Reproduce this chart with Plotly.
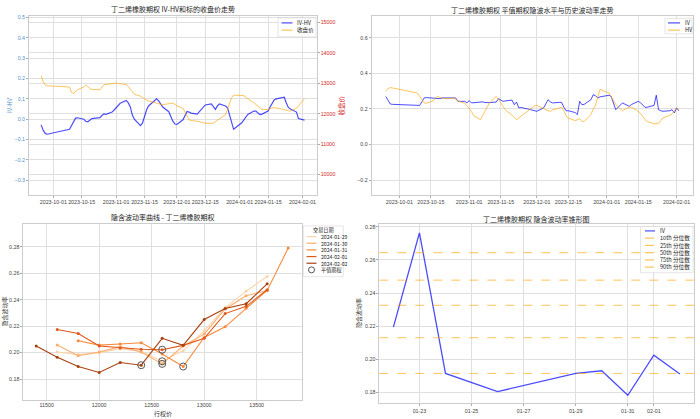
import plotly.graph_objects as go

# ---------- data: IV-HV and close price / IV and HV (trading days) ----------
dates = [
    "2023-09-25", "2023-09-26", "2023-09-27", "2023-09-28",
    "2023-10-09", "2023-10-10", "2023-10-11", "2023-10-12", "2023-10-13",
    "2023-10-16", "2023-10-17", "2023-10-18", "2023-10-19", "2023-10-20",
    "2023-10-23", "2023-10-24", "2023-10-25", "2023-10-26", "2023-10-27",
    "2023-10-30", "2023-10-31",
    "2023-11-01", "2023-11-02", "2023-11-03",
    "2023-11-06", "2023-11-07", "2023-11-08", "2023-11-09", "2023-11-10",
    "2023-11-13", "2023-11-14", "2023-11-15", "2023-11-16", "2023-11-17",
    "2023-11-20", "2023-11-21", "2023-11-22", "2023-11-23", "2023-11-24",
    "2023-11-27", "2023-11-28", "2023-11-29", "2023-11-30",
    "2023-12-01",
    "2023-12-04", "2023-12-05", "2023-12-06", "2023-12-07", "2023-12-08",
    "2023-12-11", "2023-12-12", "2023-12-13", "2023-12-14", "2023-12-15",
    "2023-12-18", "2023-12-19", "2023-12-20", "2023-12-21", "2023-12-22",
    "2023-12-25", "2023-12-26", "2023-12-27", "2023-12-28", "2023-12-29",
    "2024-01-02", "2024-01-03", "2024-01-04", "2024-01-05",
    "2024-01-08", "2024-01-09", "2024-01-10", "2024-01-11", "2024-01-12",
    "2024-01-15", "2024-01-16", "2024-01-17", "2024-01-18", "2024-01-19",
    "2024-01-22", "2024-01-23", "2024-01-24", "2024-01-25", "2024-01-26",
    "2024-01-29", "2024-01-30", "2024-01-31",
    "2024-02-01", "2024-02-02",
]

iv_hv = [
    -0.028, -0.055, -0.070, -0.074,
    -0.050, -0.030, -0.010, 0.005, 0.007,
    0.000, -0.010, -0.013, -0.005, 0.003,
    0.006, 0.007, 0.018, 0.026, 0.024,
    0.035, 0.045,
    0.055, 0.065, 0.078,
    0.092, 0.080, 0.060, 0.020, 0.000,
    -0.032, -0.020, 0.020, 0.045, 0.065,
    0.092, 0.100, 0.090, 0.075, 0.060,
    0.037, 0.010, -0.010, -0.024,
    -0.026,
    -0.003, 0.015, 0.038, 0.035, 0.030,
    0.025, 0.035, 0.045, 0.060, 0.070,
    0.075, 0.060, 0.048, 0.065, 0.075,
    0.065, 0.056, 0.020, -0.020, -0.050,
    -0.018, -0.005, 0.010, 0.023,
    0.040, 0.040, 0.030, 0.023, 0.025,
    0.040, 0.060, 0.080, 0.095, 0.100,
    0.104, 0.108, 0.080, 0.058, 0.050,
    0.035, 0.003, 0.000,
    0.000, -0.005,
]

close_price = [
    13250, 13060, 12950, 12920,
    12880, 12700, 12670, 12740, 12790,
    12880, 12940, 12900, 12830, 12800,
    12785, 12790, 12880, 12950, 12960,
    12980, 12995,
    13010, 12990, 12990,
    12960, 12900, 12800, 12720, 12640,
    12580, 12530, 12490, 12450, 12420,
    12380, 12355, 12330, 12310, 12300,
    12330, 12350, 12355, 12310,
    12260,
    12180, 12050, 11890, 11800, 11780,
    11760, 11740, 11720, 11700, 11690,
    11680, 11690, 11740, 11790, 11840,
    11970, 12150, 12380, 12530, 12610,
    12620, 12600, 12550, 12490,
    12360, 12300, 12240, 12180, 12140,
    12140, 12170, 12190, 12200, 12190,
    12170, 12140, 12110, 12095, 12085,
    12180, 12250, 12320,
    12420, 12500,
]

atm_iv = [
    0.270, 0.250, 0.228, 0.226,
    0.221, 0.220, 0.240, 0.262, 0.264,
    0.262, 0.262, 0.260, 0.258, 0.262,
    0.264, 0.262, 0.262, 0.262, 0.243,
    0.243, 0.234,
    0.247, 0.234, 0.236,
    0.238, 0.240, 0.236, 0.234, 0.236,
    0.239, 0.258, 0.250, 0.243, 0.245,
    0.250, 0.224, 0.239, 0.206, 0.208,
    0.200, 0.196, 0.196, 0.190,
    0.187,
    0.206, 0.228, 0.252, 0.240, 0.234,
    0.237, 0.237, 0.210, 0.190, 0.190,
    0.180, 0.168, 0.243, 0.224, 0.226,
    0.252, 0.280, 0.275, 0.262, 0.268,
    0.277, 0.270, 0.234, 0.196,
    0.234, 0.228, 0.222, 0.215, 0.225,
    0.243, 0.235, 0.222, 0.209, 0.210,
    0.220, 0.277, 0.196, 0.190, 0.187,
    0.190, 0.196, 0.178,
    0.206, 0.190,
]

hist_vol = [
    0.300, 0.315, 0.320, 0.318,
    0.290, 0.270, 0.250, 0.234, 0.232,
    0.245, 0.262, 0.270, 0.265, 0.260,
    0.258, 0.260, 0.262, 0.255, 0.245,
    0.232, 0.220,
    0.205, 0.185, 0.162,
    0.140, 0.165, 0.190, 0.215, 0.235,
    0.270, 0.255, 0.235, 0.215, 0.195,
    0.165, 0.150, 0.140, 0.150, 0.160,
    0.185, 0.200, 0.210, 0.218,
    0.220,
    0.200, 0.195, 0.190, 0.187, 0.195,
    0.205, 0.210, 0.190, 0.160, 0.148,
    0.135, 0.140, 0.146, 0.131, 0.130,
    0.168, 0.200, 0.220, 0.262, 0.310,
    0.290, 0.270, 0.243, 0.225,
    0.190, 0.200, 0.205, 0.210, 0.210,
    0.187, 0.175, 0.160, 0.140, 0.130,
    0.116, 0.118, 0.120, 0.135, 0.150,
    0.165, 0.172, 0.190,
    0.206, 0.196,
]

# ---------- data: smile curves ----------
smile_dates = ["2024-01-29", "2024-01-30", "2024-01-31", "2024-02-01", "2024-02-02"]
smile_strikes = [
    [11600, 11800, 12000, 12200, 12400, 12600, 12800, 13000, 13200, 13400, 13600],
    [11600, 11800, 12000, 12200, 12400, 12600, 12800, 13000, 13200, 13400, 13600],
    [11800, 12000, 12200, 12400, 12600, 12800, 13000, 13200, 13400, 13600, 13800],
    [11600, 11800, 12000, 12200, 12400, 12600, 12800, 13000, 13200, 13400, 13600],
    [11400, 11600, 11800, 12000, 12200, 12400, 12600, 12800, 13000, 13200, 13400, 13600],
]
smile_iv = [
    [0.2005, 0.1985, 0.2000, 0.2030, 0.2010, 0.1935, 0.2015, 0.2165, 0.2340, 0.2465, 0.2575],
    [0.2057, 0.1977, 0.2005, 0.2045, 0.2005, 0.1915, 0.2050, 0.2140, 0.2330, 0.2430, 0.2470],
    [0.2090, 0.2057, 0.2065, 0.2075, 0.1990, 0.1895, 0.2115, 0.2195, 0.2335, 0.2470, 0.2790],
    [0.2175, 0.2145, 0.2050, 0.2035, 0.2025, 0.2022, 0.2055, 0.2108, 0.2295, 0.2350, 0.2475],
    [0.2050, 0.1965, 0.1895, 0.1850, 0.1925, 0.1905, 0.2108, 0.2055, 0.2250, 0.2333, 0.2370, 0.2520],
]
atm_strikes = [12600, 12600, 12800, 12600, 12400]
smile_colors = ["#fdd4aa", "#fdae6b", "#f98a3d", "#e0581a", "#a8410e"]

# ---------- data: IV cone ----------
cone_dates = ["2024-01-22", "2024-01-23", "2024-01-24", "2024-01-26", "2024-01-29",
              "2024-01-30", "2024-01-31", "2024-02-01", "2024-02-02"]
cone_iv = [0.2194, 0.2764, 0.1914, 0.1804, 0.1914, 0.1930, 0.1782, 0.2024, 0.1910]
quantile_names = ["10th 分位数", "25th 分位数", "50th 分位数", "75th 分位数", "90th 分位数"]
quantile_values = [0.1914, 0.2130, 0.2326, 0.2478, 0.2644]

# ---------- styling ----------
W, H = 700, 419
FONT = "Noto Sans CJK SC, DejaVu Sans, sans-serif"
TICK_FONT = "Liberation Sans, DejaVu Sans, sans-serif"
BLUE = "rgba(0,0,255,0.7)"
ORANGE = "rgba(255,165,0,0.65)"
GRID = "#e0e0e0"
FRAME = "#cccccc"
TICKF = dict(family=TICK_FONT, size=5.3, color="#444")
LEFT_BLUE = "#4f8fcf"
RED = "#d62728"


def px(x):
    return x / W


def py(y):
    return 1 - y / H


fig = go.Figure()

# top-left
fig.add_trace(go.Scatter(x=dates, y=iv_hv, mode="lines", name="IV-HV",
                         line=dict(color=BLUE, width=1.2), xaxis="x", yaxis="y"))
fig.add_trace(go.Scatter(x=dates, y=close_price, mode="lines", name="收盘价",
                         line=dict(color=ORANGE, width=1.0), xaxis="x", yaxis="y2"))

# top-right
fig.add_trace(go.Scatter(x=dates, y=atm_iv, mode="lines", name="IV",
                         line=dict(color=BLUE, width=1.0), xaxis="x2", yaxis="y3"))
fig.add_trace(go.Scatter(x=dates, y=hist_vol, mode="lines", name="HV",
                         line=dict(color=ORANGE, width=1.0), xaxis="x2", yaxis="y3"))

# bottom-left
atm_x, atm_y = [], []
for d, ks, vs, col, ak in zip(smile_dates, smile_strikes, smile_iv, smile_colors, atm_strikes):
    fig.add_trace(go.Scatter(x=ks, y=vs, mode="lines+markers", name=d,
                             line=dict(color=col, width=1.1),
                             marker=dict(color=col, size=3),
                             xaxis="x3", yaxis="y4"))
    atm_x.append(ak)
    atm_y.append(vs[ks.index(ak)])
fig.add_trace(go.Scatter(x=atm_x, y=atm_y, mode="markers", name="平值期权",
                         marker=dict(symbol="circle-open", size=7, color="#555",
                                     line=dict(width=1)),
                         xaxis="x3", yaxis="y4"))

# bottom-right
fig.add_trace(go.Scatter(x=cone_dates, y=cone_iv, mode="lines", name="IV",
                         line=dict(color=BLUE, width=1.3), xaxis="x4", yaxis="y5"))
for qv in quantile_values:
    fig.add_shape(type="line", xref="x4 domain", yref="y5", x0=0, x1=1, y0=qv, y1=qv,
                  line=dict(color=ORANGE, width=1, dash="dash"))


# hand-drawn legends, sized like the matplotlib ones
def draw_legend(box, rows, first_y, font_size, text_x, sample, title=None, title_y=None):
    x0, y0, x1, y1 = box
    step = 1.3 * font_size
    fig.add_shape(type="rect", xref="paper", yref="paper", layer="above",
                  x0=px(x0), x1=px(x1), y0=py(y1), y1=py(y0),
                  line=dict(color="#d5d5d5", width=0.6), fillcolor="rgba(255,255,255,0.9)")
    if title:
        fig.add_annotation(text=title, x=px((x0 + x1) / 2), y=py(title_y),
                           xref="paper", yref="paper", showarrow=False, borderpad=0,
                           font=dict(size=font_size, color="#222"))
    labels = []
    for i, (label, kind, color, dash) in enumerate(rows):
        yy = first_y + i * step
        if kind == "line":
            fig.add_shape(type="line", xref="paper", yref="paper", layer="above",
                          x0=px(sample[0]), x1=px(sample[1]), y0=py(yy), y1=py(yy),
                          line=dict(color=color, width=1.2, dash=dash))
        else:
            cx = (sample[0] + sample[1]) / 2
            fig.add_shape(type="circle", xref="paper", yref="paper", layer="above",
                          x0=px(cx - 3), x1=px(cx + 3), y0=py(yy + 3), y1=py(yy - 3),
                          line=dict(color="#555", width=1))
        labels.append(label)
    mid = first_y + (len(rows) - 1) * step / 2
    fig.add_annotation(text="<br>".join(labels), x=px(text_x), y=py(mid),
                       xref="paper", yref="paper", showarrow=False, borderpad=0,
                       xanchor="left", yanchor="middle", align="left",
                       font=dict(size=font_size, color="#222"))


draw_legend((278, 16, 316, 35),
            [("IV-HV", "line", BLUE, "solid"), ("收盘价", "line", ORANGE, "solid")],
            21, 5.6, 296, (281.5, 292.5))
draw_legend((665, 16.5, 692, 32),
            [("IV", "line", BLUE, "solid"), ("HV", "line", ORANGE, "solid")],
            21, 5.6, 684, (668, 680))
draw_legend((303.3, 225, 343.3, 276),
            [(d, "line", c, "solid") for d, c in zip(smile_dates, smile_colors)]
            + [("平值期权", "circle", None, None)],
            235.7, 5.15, 319.5, (306.5, 316.5), title="交易日期", title_y=229.3)
draw_legend((640.5, 225.5, 693, 272),
            [("IV", "line", BLUE, "solid")]
            + [(qn, "line", ORANGE, "dash") for qn in quantile_names],
            230, 5.6, 658.5, (645, 655))


def ax(**kw):
    base = dict(showgrid=True, gridcolor=GRID, gridwidth=0.8, zeroline=False,
                showline=True, linecolor=FRAME, linewidth=0.8, mirror=True,
                ticks="outside", ticklen=2, tickcolor="#aaa", tickfont=TICKF,
                tickangle=0)
    base.update(kw)
    return base


tl_ticks = ["2023-10-01", "2023-10-15", "2023-11-01", "2023-11-15", "2023-12-01",
            "2023-12-15", "2024-01-01", "2024-01-15", "2024-02-01"]
br_ticks = ["2024-01-23", "2024-01-25", "2024-01-27", "2024-01-29", "2024-01-31", "2024-02-01"]

fig.update_layout(
    width=W, height=H,
    margin=dict(l=0, r=0, t=0, b=0),
    paper_bgcolor="white", plot_bgcolor="white",
    font=dict(family=FONT, size=6, color="#333"),
    showlegend=False,
    xaxis=ax(domain=[px(29), px(316.7)], anchor="y", type="date",
             range=["2023-09-19", "2024-02-08"], tickvals=tl_ticks, tickformat="%Y-%m-%d"),
    yaxis=ax(domain=[py(194), py(14)], anchor="x", range=[-0.3735, 0.508],
             dtick=0.1, tickformat=".1f",
             tickfont=dict(family=TICK_FONT, size=5.3, color=LEFT_BLUE)),
    yaxis2=ax(overlaying="y", side="right", anchor="x", range=[9322, 15220],
              dtick=1000, tickformat="d", mirror=False,
              tickfont=dict(family=TICK_FONT, size=5.3, color=RED)),
    xaxis2=ax(domain=[px(371.7), px(693.3)], anchor="y3", type="date",
              range=["2023-09-18 18:00", "2024-02-08 10:00"], tickvals=tl_ticks,
              tickformat="%Y-%m-%d"),
    yaxis3=ax(domain=[py(194), py(14)], anchor="x2", range=[-0.284, 0.723],
              tickvals=[-0.2, 0.0, 0.2, 0.4, 0.6], tickformat=".1f"),
    xaxis3=ax(domain=[px(23.3), px(301.7)], anchor="y4", range=[11277, 13929],
              tickvals=[11500, 12000, 12500, 13000, 13500], tickformat="d",
              ticks=""),
    yaxis4=ax(domain=[py(399.5), py(222.7)], anchor="x3", range=[0.1645, 0.2975],
              dtick=0.02, tickformat=".2f"),
    xaxis4=ax(domain=[px(379.3), px(694)], anchor="y5", type="date",
              range=["2024-01-21 11:00", "2024-02-02 13:00"], tickvals=br_ticks,
              tickformat="%m-%d"),
    yaxis5=ax(domain=[py(403.3), py(223.3)], anchor="x4", range=[0.1733, 0.2816],
              dtick=0.02, tickformat=".2f"),
)

# titles and axis labels
texts = [
    ("丁二烯橡胶期权 IV-HV和标的收盘价走势", 172.5, 7.5, 7, "#222", 0),
    ("丁二烯橡胶期权 平值期权隐波水平与历史波动率走势", 532.5, 8.5, 7, "#222", 0),
    ("隐含波动率曲线 - 丁二烯橡胶期权", 162.5, 216, 7, "#222", 0),
    ("丁二烯橡胶期权 隐含波动率锥形图", 536.5, 218.5, 7, "#222", 0),
    ("IV-HV", 9.5, 104, 6, LEFT_BLUE, -90),
    ("收盘价", 341, 104, 6.5, RED, -90),
    ("隐含波动率", 5, 311, 6, "#333", -90),
    ("行权价", 162.5, 413.3, 6, "#333", 0),
    ("隐含波动率", 358.5, 313, 6, "#333", -90),
]
for text, x, y, size, color, angle in texts:
    fig.add_annotation(text=text, x=px(x), y=py(y), xref="paper", yref="paper",
                       showarrow=False, font=dict(size=size, color=color),
                       textangle=angle, xanchor="center", yanchor="middle")

fig.write_html("out.html", config={"displayModeBar": False},
               post_script="document.body.style.margin='0';")
